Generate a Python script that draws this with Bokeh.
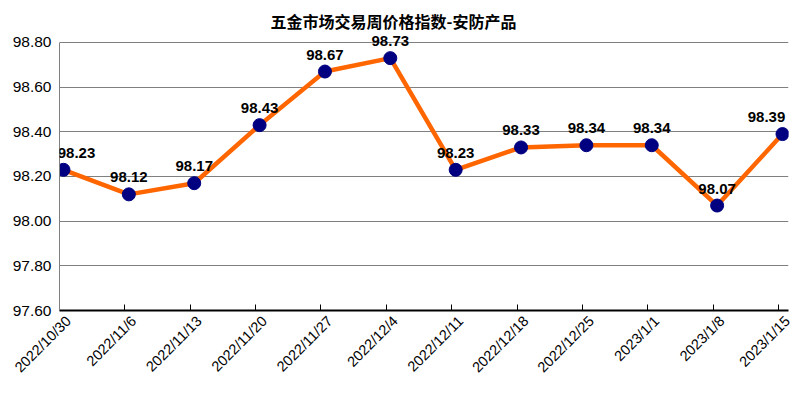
import math
from bokeh.plotting import figure
from bokeh.models import (ColumnDataSource, FixedTicker, Title, Range1d, LabelSet,
                          PrintfTickFormatter, LinearAxis)
from bokeh.core.properties import value
from bokeh.embed import file_html
from bokeh.resources import INLINE

# ---- data ----
dates = ["2022/10/30", "2022/11/6", "2022/11/13", "2022/11/20", "2022/11/27", "2022/12/4",
         "2022/12/11", "2022/12/18", "2022/12/25", "2023/1/1", "2023/1/8", "2023/1/15"]
index_values = [98.23, 98.12, 98.17, 98.43, 98.67, 98.73, 98.23, 98.33, 98.34, 98.34, 98.07, 98.39]
y_ticks = [97.6, 97.8, 98.0, 98.2, 98.4, 98.6, 98.8]
title_text = "五金市场交易周价格指数-安防产品"

xs = list(range(len(dates)))
labels = ["%.2f" % v for v in index_values]
# horizontal nudge of the end labels so they stay inside the chart (style only)
label_dx = [13] + [0] * (len(dates) - 2) + [-16]

src = ColumnDataSource(dict(x=xs, y=index_values, lab=labels, dx=label_dx))

# frame extends 8px above the top gridline so the top data label is not clipped
y_top = y_ticks[-1] + (y_ticks[1] - y_ticks[0]) * 8 / 44.67

p = figure(width=793, height=398, output_backend="svg", toolbar_location=None,
           x_range=Range1d(-0.0612, len(dates) - 1 + 0.092),
           y_range=Range1d(y_ticks[0], y_top),
           min_border_left=59, min_border_right=5, min_border_top=34, min_border_bottom=88,
           background_fill_color="white", border_fill_color="white", outline_line_color=None)

p.add_layout(Title(text=title_text, align="left", offset=211, standoff=3,
                   text_font="Noto Sans CJK SC", text_font_size="16px",
                   text_font_style="bold", text_color="black"), "above")

# line + markers
p.line("x", "y", source=src, line_color="#FF6600", line_width=4.5)
p.scatter("x", "y", source=src, size=13, fill_color="#000080", line_color="#000080")

# data labels
p.add_layout(LabelSet(x="x", y="y", text="lab", source=src, x_offset="dx", y_offset=12,
                      text_align="center", text_baseline="alphabetic",
                      text_font=value("Liberation Sans"), text_font_size=value("15px"),
                      text_font_style=value("bold"), text_color=value("black"),
                      level="overlay"))

# x axis: tick marks at category starts, labels on a second, label-only axis
tick_shift = -0.0612
label_shift = 0.075
p.xaxis.ticker = FixedTicker(ticks=[i + tick_shift for i in xs])
p.xaxis.major_label_overrides = {i + tick_shift: "" for i in xs}
p.xaxis.major_label_text_font_size = "1px"
p.xaxis.major_label_standoff = 0
p.xaxis.axis_line_color = "black"
p.xaxis.axis_line_width = 2
p.xaxis.major_tick_in = 6
p.xaxis.major_tick_out = 0
p.xaxis.major_tick_line_color = "black"
p.xaxis.minor_tick_line_color = None

lab_axis = LinearAxis(ticker=FixedTicker(ticks=[i + label_shift for i in xs]),
                      major_label_overrides={i + label_shift: d for i, d in zip(xs, dates)},
                      major_label_orientation=math.pi / 4,
                      major_label_text_font="Liberation Sans",
                      major_label_text_font_size="14.5px",
                      major_label_text_color="black",
                      major_label_standoff=8,
                      axis_line_color=None, major_tick_line_color=None,
                      minor_tick_line_color=None, major_tick_in=0, major_tick_out=0)
p.add_layout(lab_axis, "below")

p.yaxis.ticker = FixedTicker(ticks=y_ticks)
p.yaxis.bounds = (y_ticks[0], y_ticks[-1])
p.yaxis.formatter = PrintfTickFormatter(format="%.2f")
p.yaxis.major_label_text_font = "Liberation Sans"
p.yaxis.major_label_text_font_size = "15.5px"
p.yaxis.major_label_text_color = "black"
p.yaxis.axis_line_color = "#808080"
p.yaxis.major_tick_line_color = None
p.yaxis.major_tick_out = 0
p.yaxis.major_tick_in = 0
p.yaxis.minor_tick_line_color = None
p.yaxis.major_label_standoff = 8

p.xgrid.grid_line_color = None
p.ygrid.grid_line_color = "#808080"
p.ygrid.grid_line_width = 1

open("out.html", "w").write(file_html(p, INLINE))
